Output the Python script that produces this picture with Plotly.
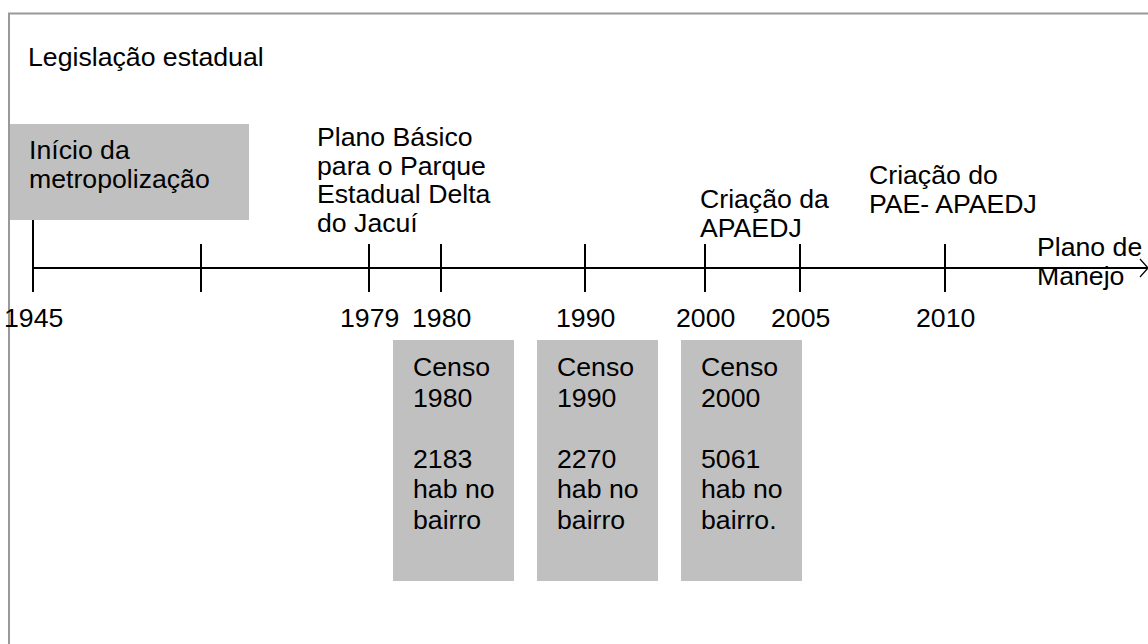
import plotly.graph_objects as go

# ---------------- data ----------------
title_text = "Legislação estadual"
era_label = ["Início da", "metropolização"]

tick_labels = ["1945", "", "1979", "1980", "1990", "2000", "2005", "2010"]
tick_pos = [33, 201, 369, 441, 585, 705, 800, 945]  # schematic timeline positions

event_lines = [
    ["Plano Básico", "para o Parque", "Estadual Delta", "do Jacuí"],
    ["Criação da", "APAEDJ"],
    ["Criação do", "PAE- APAEDJ"],
    ["Plano de", "Manejo"],
]
event_x = [317, 700, 869, 1037]
event_y = [137, 199, 175, 247]

census_years = [1980, 1990, 2000]
census_pop = [2183, 2270, 5061]
census_last = ["bairro", "bairro", "bairro."]
census_x0 = [393, 537, 681]

# ---------------- style ----------------
FONT = "Liberation Sans, Arial, sans-serif"
FS = 26.67
GRAY = "#c0c0c0"
FRAME = "#999999"
LINE_Y = 268
TOP_SP = 28.5
CEN_SP = 30.6
PAD = 2  # compensate annotation inner padding

fig = go.Figure()
shapes = []
ann = []

def text(x, y, s, xanchor="left"):
    if xanchor == "left":
        x = x - PAD
    ann.append(dict(x=x, y=y, xref="x", yref="y", text=s, showarrow=False,
                    xanchor=xanchor, yanchor="middle",
                    font=dict(family=FONT, size=FS, color="black")))

# frame (left and top)
fig.add_trace(go.Scatter(x=[9, 9, 1148], y=[644, 13.5, 13.5], mode="lines",
                         line=dict(color=FRAME, width=2), hoverinfo="skip"))

# era box
shapes.append(dict(type="rect", x0=9, x1=249, y0=124, y1=220, fillcolor=GRAY,
                   line=dict(width=0), layer="below"))
for i, s in enumerate(era_label):
    text(29, 150 + i * TOP_SP, s)

text(28, 57, title_text)

# timeline main line
fig.add_trace(go.Scatter(x=[tick_pos[0], 1147], y=[LINE_Y, LINE_Y], mode="lines",
                         line=dict(color="black", width=2), hoverinfo="skip"))
# arrow head (open chevron)
fig.add_trace(go.Scatter(x=[1140, 1148, 1140], y=[259, LINE_Y, 277], mode="lines",
                         line=dict(color="black", width=1.2), hoverinfo="skip"))

# ticks
for i, (p, lab) in enumerate(zip(tick_pos, tick_labels)):
    top = 220 if i == 0 else 244
    fig.add_trace(go.Scatter(x=[p, p], y=[top, 292], mode="lines",
                             line=dict(color="black", width=2), hoverinfo="skip"))
    if lab:
        text(p, 318, lab, xanchor="center")

# events
for lines, x, y in zip(event_lines, event_x, event_y):
    for i, s in enumerate(lines):
        text(x, y + i * TOP_SP, s)

# census boxes
for yr, pop, last, x0 in zip(census_years, census_pop, census_last, census_x0):
    shapes.append(dict(type="rect", x0=x0, x1=x0 + 121, y0=340, y1=581,
                       fillcolor=GRAY, line=dict(width=0), layer="below"))
    lines = ["Censo", str(yr), "", str(pop), "hab no", last]
    for i, s in enumerate(lines):
        if s:
            text(x0 + 20, 367 + i * CEN_SP, s)

fig.update_layout(
    width=1148, height=644,
    margin=dict(l=0, r=0, t=0, b=0),
    paper_bgcolor="white", plot_bgcolor="white",
    showlegend=False,
    xaxis=dict(range=[0, 1148], visible=False, fixedrange=True),
    yaxis=dict(range=[644, 0], visible=False, fixedrange=True),
    shapes=shapes, annotations=ann,
)

fig.write_html("out.html", config={"displayModeBar": False},
               post_script="document.body.style.margin='0';document.body.style.overflow='hidden';")
